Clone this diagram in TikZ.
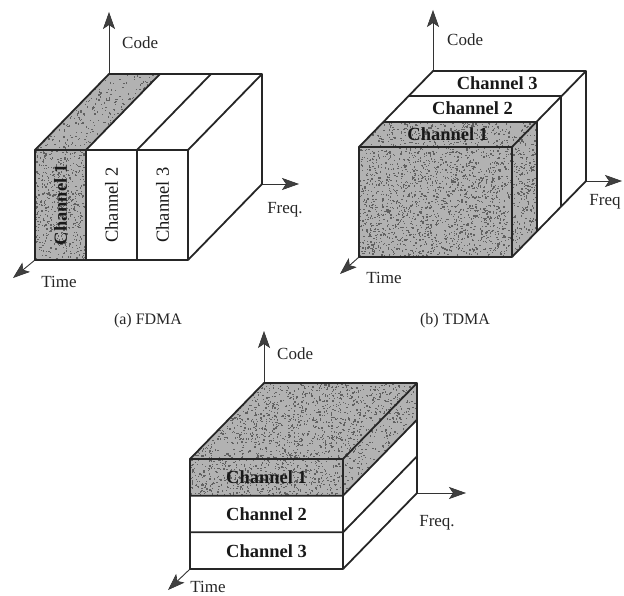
\documentclass[tikz,border=0pt]{standalone}
\usepackage{fontspec}
\setmainfont{Liberation Serif}
\usetikzlibrary{arrows.meta}
\tikzset{
  boxline/.style={line width=1.8pt, line join=round, black!85},
  axisline/.style={line width=0.9pt, black!80, -{Stealth[length=17pt,width=12pt,inset=4pt,fill=black!75,line width=0.6pt]}},
  shade/.style={fill=black!30},
  axlabel/.style={font=\fontsize{17}{19}\selectfont, inner sep=0pt, text=black!85},
  chlab/.style={font=\fontsize{18.5}{20}\selectfont, inner sep=0pt, text=black!90},
  chbold/.style={font=\fontsize{18.5}{20}\selectfont\bfseries, inner sep=0pt, text=black!90},
  caption/.style={font=\fontsize{16}{18}\selectfont, inner sep=0pt, text=black!85},
}
\colorlet{grainc}{black!62}
\newcommand{\grainfill}[5]{%
  \foreach \k in {1,...,#5}{\fill[grainc] ({#1+rnd*#3},{#2+rnd*#4}) rectangle ++(1.3,1.3);}}
\begin{document}
\begin{tikzpicture}[x=1pt,y=-1pt]
\pgfmathsetseed{11}
\useasboundingbox (0,0) rectangle (624,596);

%================ (a) FDMA =================
\begin{scope}[shift={(35,260)}]
  \coordinate (aFBL) at (0,0);
  \coordinate (aFTL) at (0,-110);
  \coordinate (aFTR) at (153,-110);
  \coordinate (aFBR) at (153,0);
  \coordinate (aBTL) at (74,-186);
  \coordinate (aBTR) at (227,-186);
  \coordinate (aBBR) at (227,-76);
  \coordinate (aCodeTip) at (74,-248);
  \coordinate (aFreqTip) at (264,-76);
  \coordinate (aTimeTip) at (-22,18);
  % shading
  \begin{scope}
    \clip (0,0) rectangle (51,-110);
    \fill[shade] (0,0) rectangle (51,-110);
    \grainfill{0}{-110}{51}{110}{560}
  \end{scope}
  \begin{scope}
    \clip (0,-110) -- (51,-110) -- (125,-186) -- (74,-186) -- cycle;
    \fill[shade] (0,-110) -- (51,-110) -- (125,-186) -- (74,-186) -- cycle;
    \grainfill{0}{-186}{125}{76}{420}
  \end{scope}
  % axes
  \draw[axisline] (aBTL) -- (aCodeTip);
  \draw[axisline] (aBBR) -- (aFreqTip);
  \draw[axisline] (aFBL) -- (aTimeTip);
  % box
  \draw[boxline] (aFBL) rectangle (aFTR);
  \draw[boxline] (51,0) -- (51,-110) -- (125,-186);
  \draw[boxline] (102,0) -- (102,-110) -- (176,-186);
  \draw[boxline] (aFTL) -- (aBTL) -- (aBTR) -- (aBBR) -- (aFBR);
  \draw[boxline] (aFTR) -- (aBTR);
  % labels
  \node[chbold, rotate=90] (a1) at (25.5,-55) {Channel 1};
  \node[chlab, rotate=90] (a2) at (76.5,-55) {Channel 2};
  \node[chlab, rotate=90] (a3) at (127.5,-55) {Channel 3};
  \node[axlabel, anchor=west] (aCode) at (87,-217) {Code};
  \node[axlabel] (aFreq) at (250,-50) {Freq.};
  \node[axlabel] (aTime) at (24,22) {Time};
\end{scope}
\node[caption] (capA) at (148,321) {(a) FDMA};

%================ (b) TDMA =================
\begin{scope}[shift={(359,257)}]
  \coordinate (bFBL) at (0,0);
  \coordinate (bFTL) at (0,-110);
  \coordinate (bFTR) at (153,-110);
  \coordinate (bFBR) at (153,0);
  \coordinate (bBTL) at (74,-186);
  \coordinate (bBTR) at (227,-186);
  \coordinate (bBBR) at (227,-76);
  \coordinate (bCodeTip) at (74,-247);
  \coordinate (bFreqTip) at (263,-76);
  \coordinate (bTimeTip) at (-19,17);
  % shading
  \begin{scope}
    \clip (0,0) rectangle (153,-110);
    \fill[shade] (0,0) rectangle (153,-110);
    \grainfill{0}{-110}{153}{110}{1700}
  \end{scope}
  \begin{scope}
    \clip (0,-110) -- (153,-110) -- (177.67,-135.33) -- (24.67,-135.33) -- cycle;
    \fill[shade] (0,-110) -- (153,-110) -- (177.67,-135.33) -- (24.67,-135.33) -- cycle;
    \grainfill{0}{-136}{178}{26}{380}
  \end{scope}
  \begin{scope}
    \clip (153,0) -- (153,-110) -- (177.67,-135.33) -- (177.67,-25.33) -- cycle;
    \fill[shade] (153,0) -- (153,-110) -- (177.67,-135.33) -- (177.67,-25.33) -- cycle;
    \grainfill{153}{-136}{25}{136}{330}
  \end{scope}
  % axes
  \draw[axisline] (bBTL) -- (bCodeTip);
  \draw[axisline] (bBBR) -- (bFreqTip);
  \draw[axisline] (bFBL) -- (bTimeTip);
  % box
  \draw[boxline] (bFBL) rectangle (bFTR);
  \draw[boxline] (bFTL) -- (bBTL) -- (bBTR) -- (bBBR) -- (bFBR);
  \draw[boxline] (bFTR) -- (bBTR);
  \draw[boxline] (24.67,-135.33) -- (177.67,-135.33) -- (177.67,-25.33);
  \draw[boxline] (49.33,-160.67) -- (202.33,-160.67) -- (202.33,-50.67);
  % labels
  \node[chbold] (b1) at (88.8,-123) {Channel 1};
  \node[chbold] (b2) at (113.5,-148.5) {Channel 2};
  \node[chbold] (b3) at (138.2,-173.5) {Channel 3};
  \node[axlabel, anchor=west] (bCode) at (88,-217) {Code};
  \node[axlabel] (bFreq) at (246,-55) {Freq};
  \node[axlabel] (bTime) at (25,21) {Time};
\end{scope}
\node[caption] (capB) at (455,321) {(b) TDMA};

%================ (c) CDMA =================
\begin{scope}[shift={(190,569)}]
  \coordinate (cFBL) at (0,0);
  \coordinate (cFTL) at (0,-110);
  \coordinate (cFTR) at (153,-110);
  \coordinate (cFBR) at (153,0);
  \coordinate (cBTL) at (74,-186);
  \coordinate (cBTR) at (227,-186);
  \coordinate (cBBR) at (227,-76);
  \coordinate (cCodeTip) at (74,-238);
  \coordinate (cFreqTip) at (276,-76);
  \coordinate (cTimeTip) at (-22,21);
  % shading
  \begin{scope}
    \clip (0,-110) -- (153,-110) -- (227,-186) -- (74,-186) -- cycle;
    \fill[shade] (0,-110) -- (153,-110) -- (227,-186) -- (74,-186) -- cycle;
    \grainfill{0}{-186}{227}{76}{1600}
  \end{scope}
  \begin{scope}
    \clip (0,-73.33) rectangle (153,-110);
    \fill[shade] (0,-73.33) rectangle (153,-110);
    \grainfill{0}{-110}{153}{37}{560}
  \end{scope}
  \begin{scope}
    \clip (153,-73.33) -- (153,-110) -- (227,-186) -- (227,-149.33) -- cycle;
    \fill[shade] (153,-73.33) -- (153,-110) -- (227,-186) -- (227,-149.33) -- cycle;
    \grainfill{153}{-186}{74}{113}{420}
  \end{scope}
  % axes
  \draw[axisline] (cBTL) -- (cCodeTip);
  \draw[axisline] (cBBR) -- (cFreqTip);
  \draw[axisline] (cFBL) -- (cTimeTip);
  % box
  \draw[boxline] (cFBL) rectangle (cFTR);
  \draw[boxline] (cFTL) -- (cBTL) -- (cBTR) -- (cBBR) -- (cFBR);
  \draw[boxline] (cFTR) -- (cBTR);
  \draw[boxline] (0,-36.67) -- (153,-36.67) -- (227,-112.67);
  \draw[boxline] (0,-73.33) -- (153,-73.33) -- (227,-149.33);
  % labels
  \node[chbold] (c1) at (76.5,-91.7) {Channel 1};
  \node[chbold] (c2) at (76.5,-55) {Channel 2};
  \node[chbold] (c3) at (76.5,-18.3) {Channel 3};
  \node[axlabel, anchor=west] (cCode) at (87,-215) {Code};
  \node[axlabel] (cFreq) at (247,-46) {Freq.};
  \node[axlabel, anchor=base] (cTime) at (18,23) {Time};
\end{scope}
\end{tikzpicture}
\end{document}
